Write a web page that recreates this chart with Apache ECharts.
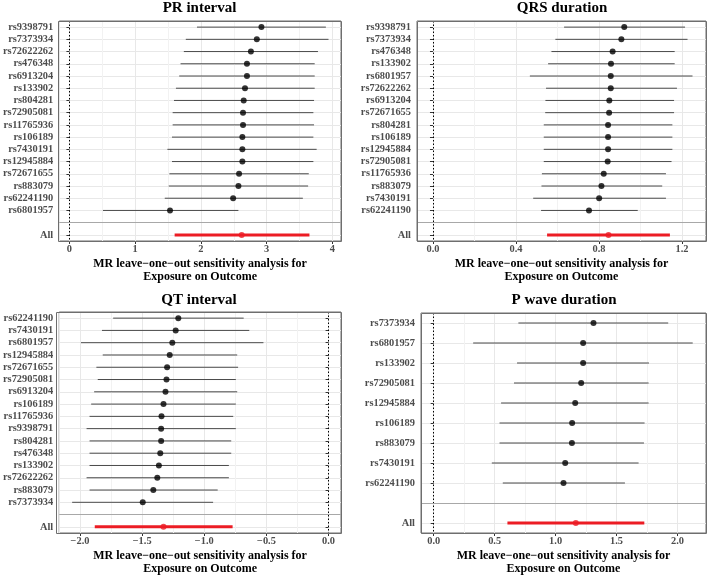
<!DOCTYPE html>
<html><head><meta charset="utf-8">
<script src="https://cdn.jsdelivr.net/npm/echarts@6/dist/echarts.min.js"></script>
<style>html,body{margin:0;padding:0;background:#fff}#chart{width:709px;height:577px}</style>
</head><body><div id="chart"></div>
<script>
// ---------- data ----------
const prLabels = ['rs9398791','rs7373934','rs72622262','rs476348','rs6913204','rs133902','rs804281','rs72905081','rs11765936','rs106189','rs7430191','rs12945884','rs72671655','rs883079','rs62241190','rs6801957','All'];
const prEst = [2.92,2.85,2.76,2.70,2.70,2.67,2.65,2.64,2.64,2.63,2.63,2.63,2.58,2.57,2.49,1.53,2.62];
const prLo  = [1.94,1.77,1.74,1.69,1.67,1.62,1.59,1.57,1.57,1.56,1.49,1.56,1.52,1.51,1.45,0.51,1.60];
const prHi  = [3.90,3.94,3.78,3.73,3.73,3.73,3.72,3.71,3.72,3.71,3.76,3.71,3.64,3.63,3.55,2.57,3.65];

const qrsLabels = ['rs9398791','rs7373934','rs476348','rs133902','rs6801957','rs72622262','rs6913204','rs72671655','rs804281','rs106189','rs12945884','rs72905081','rs11765936','rs883079','rs7430191','rs62241190','All'];
const qrsEst = [0.922,0.908,0.866,0.858,0.857,0.857,0.850,0.849,0.844,0.844,0.844,0.842,0.823,0.812,0.801,0.752,0.846];
const qrsLo  = [0.632,0.590,0.571,0.555,0.467,0.545,0.542,0.541,0.534,0.534,0.534,0.534,0.525,0.523,0.483,0.521,0.550];
const qrsHi  = [1.215,1.227,1.165,1.165,1.251,1.176,1.162,1.162,1.154,1.154,1.154,1.150,1.123,1.105,1.123,0.987,1.142];

const qtLabels = ['rs62241190','rs7430191','rs6801957','rs12945884','rs72671655','rs72905081','rs6913204','rs106189','rs11765936','rs9398791','rs804281','rs476348','rs133902','rs72622262','rs883079','rs7373934','All'];
const qtEst = [-1.209,-1.230,-1.257,-1.278,-1.299,-1.304,-1.312,-1.328,-1.344,-1.347,-1.347,-1.354,-1.365,-1.378,-1.410,-1.495,-1.328];
const qtLo  = [-1.733,-1.823,-1.992,-1.817,-1.868,-1.857,-1.886,-1.910,-1.923,-1.947,-1.923,-1.923,-1.923,-1.947,-1.923,-2.063,-1.881];
const qtHi  = [-0.683,-0.638,-0.524,-0.735,-0.728,-0.746,-0.735,-0.746,-0.767,-0.746,-0.783,-0.783,-0.802,-0.802,-0.892,-0.929,-0.772];

const pwLabels = ['rs7373934','rs6801957','rs133902','rs72905081','rs12945884','rs106189','rs883079','rs7430191','rs62241190','All'];
const pwEst = [1.311,1.226,1.226,1.210,1.161,1.136,1.134,1.079,1.065,1.166];
const pwLo  = [0.695,0.324,0.684,0.659,0.553,0.540,0.540,0.477,0.567,0.605];
const pwHi  = [1.924,2.125,1.766,1.763,1.763,1.730,1.725,1.681,1.569,1.728];

const panelTitles = ['PR interval','QRS duration','QT interval','P wave duration'];
const xTitle = 'MR leave\u2212one\u2212out sensitivity analysis for\nExposure on Outcome';

// ---------- layout / style ----------
const FONT = '"Liberation Serif","Times New Roman",serif';
const RED = '#ec1c24';
const fmtInt = v => String(Math.round(v));
const fmt1 = v => (Math.abs(v) < 1e-9 ? 0 : v).toFixed(1).replace('-', '\u2212');

const panels = [
  {labels: prLabels, est: prEst, lo: prLo, hi: prHi, grid: {left: 58, top: 21, width: 283, height: 220}, min: -0.155, max: 4.13, step: 1, fmt: fmtInt, tx: 199.5, ty: 8},
  {labels: qrsLabels, est: qrsEst, lo: qrsLo, hi: qrsHi, grid: {left: 417, top: 21, width: 289, height: 220}, min: -0.077, max: 1.316, step: 0.4, fmt: fmt1, tx: 562, ty: 8},
  {labels: qtLabels, est: qtEst, lo: qtLo, hi: qtHi, grid: {left: 56, top: 312, width: 285, height: 221}, min: -2.167, max: 0.10, step: 0.5, fmt: fmt1, tx: 199, ty: 300},
  {labels: pwLabels, est: pwEst, lo: pwLo, hi: pwHi, grid: {left: 421, top: 313, width: 285, height: 220}, min: -0.104, max: 2.234, step: 0.5, fmt: fmt1, tx: 564, ty: 300}
];

const grids = [], xAxes = [], yAxes = [], series = [], graphics = [];

panels.forEach((p, k) => {
  const n = p.labels.length;
  const cats = p.labels.slice(0, n - 1).concat(['', 'All']);
  const rowIdx = i => (i === n - 1 ? n : i);
  grids.push(Object.assign({show: true, borderColor: '#6e6e6e', borderWidth: 1, backgroundColor: '#fff'}, p.grid));
  xAxes.push({
    type: 'value', gridIndex: k, min: p.min, max: p.max,
    minInterval: p.step, maxInterval: p.step, splitNumber: 5,
    axisLine: {show: false},
    axisTick: {show: true, length: 3, lineStyle: {color: '#333'}},
    axisLabel: {margin: 3, fontFamily: FONT, fontWeight: 'bold', fontSize: 10.4, color: '#4d4d4d', showMinLabel: false, showMaxLabel: false, formatter: p.fmt},
    splitLine: {show: true, lineStyle: {color: '#e8e8e8', width: 1}},
    minorTick: {show: false, splitNumber: 2},
    minorSplitLine: {show: true, lineStyle: {color: '#f2f2f2', width: 1}},
    name: xTitle, nameLocation: 'middle', nameGap: 16,
    nameTextStyle: {fontFamily: FONT, fontWeight: 'bold', fontSize: 12, color: '#000', lineHeight: 13.3}
  });
  yAxes.push({
    type: 'category', gridIndex: k, data: cats, inverse: true, boundaryGap: true,
    axisLine: {show: false},
    axisTick: {show: true, alignWithLabel: true, interval: 0, length: 3, lineStyle: {color: '#333'}},
    axisLabel: {interval: 0, margin: 6, fontFamily: FONT, fontWeight: 'bold', fontSize: 10.4, color: '#4d4d4d'},
    splitLine: {show: true, alignWithLabel: true, interval: 0, lineStyle: {color: '#e8e8e8', width: 1}}
  });
  // error bars
  series.push({
    type: 'custom', xAxisIndex: k, yAxisIndex: k, silent: true, animation: false,
    encode: {x: [1, 2], y: 0},
    data: p.labels.map((_, i) => [rowIdx(i), p.lo[i], p.hi[i], i === n - 1 ? 1 : 0]),
    renderItem: (params, api) => {
      const y = api.value(0);
      const a = api.coord([api.value(1), y]);
      const b = api.coord([api.value(2), y]);
      const all = api.value(3) === 1;
      return {type: 'line', shape: {x1: a[0], y1: a[1], x2: b[0], y2: b[1]},
        style: {stroke: all ? RED : '#4a4a4a', lineWidth: all ? 3 : 1}};
    },
    z: 3
  });
  // points + reference lines
  series.push({
    type: 'scatter', xAxisIndex: k, yAxisIndex: k, silent: true, animation: false,
    symbolSize: 6,
    data: p.labels.map((_, i) => ({value: [p.est[i], rowIdx(i)], itemStyle: {color: i === n - 1 ? RED : '#000'}})),
    markLine: {
      silent: true, symbol: ['none', 'none'], label: {show: false}, animation: false,
      data: [
        {xAxis: 0, lineStyle: {type: [1.5, 2], color: '#000', width: 1}},
        {yAxis: n - 1, lineStyle: {type: 'solid', color: '#a8a8a8', width: 1}}
      ]
    },
    z: 4
  });
  graphics.push({type: 'text', x: p.tx, y: p.ty,
    style: {text: panelTitles[k], textAlign: 'center', textVerticalAlign: 'middle', font: 'bold 15px ' + FONT, fill: '#000'}});
  // panel frame on top of grid lines
  graphics.push({type: 'rect', z: 100, silent: true,
    shape: {x: p.grid.left + 0.5, y: p.grid.top + 0.5, width: p.grid.width, height: p.grid.height},
    style: {fill: 'none', stroke: '#6e6e6e', lineWidth: 1}});
});

const chart = echarts.init(document.getElementById('chart'), null, {renderer: 'canvas'});
chart.setOption({
  backgroundColor: '#fff', animation: false,
  grid: grids, xAxis: xAxes, yAxis: yAxes, series: series, graphic: graphics
});
</script></body></html>
